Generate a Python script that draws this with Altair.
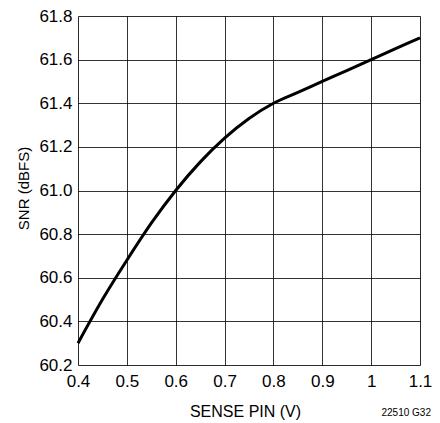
import altair as alt
import pandas as pd

sense_v = [0.40, 0.45, 0.50, 0.55, 0.60, 0.65, 0.70, 0.75, 0.80, 0.85, 0.90, 0.95, 1.00, 1.05, 1.10]
snr_dbfs = [60.30, 60.50, 60.68, 60.85, 61.00, 61.13, 61.24, 61.33, 61.40, 61.45, 61.50, 61.55, 61.60, 61.65, 61.70]

x_ticks = [0.4, 0.5, 0.6, 0.7, 0.8, 0.9, 1.0, 1.1]
y_ticks = [60.2, 60.4, 60.6, 60.8, 61.0, 61.2, 61.4, 61.6, 61.8]

df = pd.DataFrame({"v": sense_v, "snr": snr_dbfs})
FONT = "Liberation Sans"
W, H = 342, 349

line = alt.Chart(df).mark_line(color="black", strokeWidth=3, interpolate="monotone").encode(
    x=alt.X("v:Q", scale=alt.Scale(domain=[0.4, 1.1], nice=False, zero=False),
            axis=alt.Axis(values=x_ticks, title="SENSE PIN (V)",
                          labelExpr="datum.value == 1 ? '1' : format(datum.value, '.1f')",
                          grid=True, gridColor="#000", gridOpacity=0.8, gridWidth=1,
                          ticks=False, domain=False, labelPadding=8, labelFontSize=17,
                          labelFont=FONT, labelColor="#000", titleFont=FONT, titleFontSize=16,
                          titleFontWeight="normal", titleColor="#000",
                          titleBaseline="alphabetic", titleY=51, titleX=W / 2 - 4,
                          labelFlush=False)),
    y=alt.Y("snr:Q", scale=alt.Scale(domain=[60.2, 61.8], nice=False, zero=False),
            axis=alt.Axis(values=y_ticks, format=".1f", title="SNR (dBFS)",
                          grid=True, gridColor="#000", gridOpacity=0.8, gridWidth=1,
                          ticks=False, domain=False, labelPadding=6, labelFontSize=17,
                          labelFont=FONT, labelColor="#000", titleFont=FONT, titleFontSize=15,
                          titleFontWeight="normal", titleColor="#000",
                          titleBaseline="alphabetic", titleAngle=-90, titleAlign="center",
                          titleX=-50, titleY=172)),
)

note = alt.Chart(pd.DataFrame({"t": ["22510 G32"]})).mark_text(
    font=FONT, fontSize=10, color="#000", align="right", baseline="alphabetic"
).encode(x=alt.value(353), y=alt.value(400), text="t:N")

chart = alt.layer(line, note).properties(
    width=W, height=H,
    autosize=alt.AutoSizeParams(type="none"),
    padding={"left": 70, "top": 8, "right": 12, "bottom": 56},
).configure_view(stroke="#000", strokeWidth=2).configure(background="white")

chart.save("out.html", embed_options={"renderer": "svg", "actions": False})
